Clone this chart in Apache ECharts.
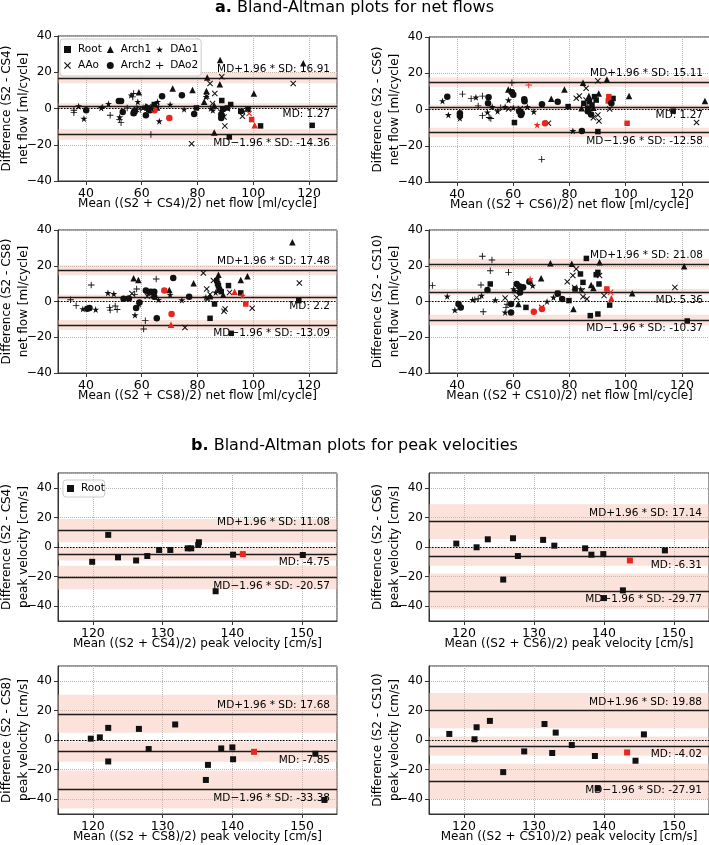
<!DOCTYPE html>
<html><head><meta charset="utf-8">
<script src="https://cdn.jsdelivr.net/npm/echarts@6.0.0/dist/echarts.min.js"></script>
<style>html,body{margin:0;padding:0;background:#fff}#c{width:709px;height:845px}</style>
</head><body><div id="c"></div>
<script>
const FONT = 'DejaVu Sans';
const types = ['Root','AAo','Arch1','Arch2','DAo1','DAo2'];
const comparisons = ['CS4','CS6','CS8','CS10'];

// ---- net flow data: [mean, difference] ----
const cs4_Root = [[57.1,-2.5],[57.4,-1.5],[61.9,0.3],[64.5,2.2],[62.5,-0.5],[79.6,0.3],[88.7,4.4],[89.0,-0.4],[88.5,-3.5],[90.7,0.3],[91.9,2.2],[95.5,-1.5],[98.1,-0.4],[102.6,-9.6],[121.1,-9.3],[91.4,-15.7]];
const cs4_AAo = [[88.7,17.5],[84.5,13.8],[83.3,6.8],[86.2,8.3],[114.3,13.8],[96.1,-4.3],[89.8,-9.6],[77.9,-19.4],[88.3,-1.9],[89.5,-4.7],[85.4,2.7],[90.7,-0.1],[58.0,-0.4],[62.5,1.0]];
const cs4_Arch1 = [[88.1,26.7],[117.9,24.9],[83.5,17.1],[88.0,13.4],[71.1,11.1],[78.2,10.2],[59.0,8.9],[83.2,9.6],[82.4,3.7],[100.2,8.3],[86.0,-13.3],[61.5,1.3],[86.0,1.7],[65.5,0.5]];
const cs4_Arch2 = [[51.8,4.2],[52.6,4.2],[40.1,-1.0],[53.2,-1.9],[57.1,-2.6],[61.5,-3.7],[67.3,6.8],[74.4,7.3],[78.8,-3.0],[88.7,-3.7],[88.5,-5.2],[64.4,0.8],[57.5,-1.5],[63.0,-1.0]];
const cs4_DAo1 = [[37.4,1.3],[39.3,-5.6],[45.5,0.3],[48.1,2.6],[52.1,-4.8],[56.2,7.3],[58.6,3.7],[65.7,3.7],[66.3,-7.0],[70.2,2.2],[75.2,-0.4],[83.1,6.4],[84.8,0.0],[96.4,-1.5],[60.5,0.5],[85.5,-1.0],[63.5,0.0]];
const cs4_DAo2 = [[35.7,-2.3],[35.7,-1.0],[48.7,-3.7],[52.6,-7.8],[52.0,-6.0],[57.1,8.3],[56.8,6.4],[63.3,-14.4],[58.3,0.3],[54.8,0.3],[46.0,0.5],[59.5,-0.5],[62.0,0.5],[66.0,1.0]];
const cs4_red = [['Root',99.4,-6.1],['AAo',98.5,-2.8],['Arch1',100.5,-9.3],['Arch2',69.9,-5.2],['Arch2',64.6,-1.0]];

const cs6_Root = [[60.4,-7.2],[79.5,1.6],[85.1,3.4],[87.1,4.3],[88.9,7.1],[89.5,5.2],[95.5,6.1],[90.1,-12.2],[116.9,-0.9],[86.5,0.5],[88.0,2.5]];
const cs6_AAo = [[82.4,6.2],[85.9,11.7],[90.1,15.8],[87.1,1.3],[90.1,-3.0],[90.5,-6.3],[94.3,0.3],[125.2,-7.2],[72.5,-7.6],[85.9,5.2],[58.3,0.3],[62.5,0.5],[83.5,7.5],[88.5,-4.5]];
const cs6_Arch1 = [[84.8,14.8],[93.3,16.6],[78.2,11.1],[86.9,7.5],[90.4,8.8],[101.2,7.5],[128.2,4.7],[58.2,11.1],[84.3,0.7],[88.5,1.0],[73.5,6.0]];
const cs6_Arch2 = [[36.5,7.1],[41.0,-2.1],[41.0,-3.4],[51.2,6.7],[51.0,3.4],[60.0,8.2],[63.9,5.6],[62.7,-3.0],[62.1,-0.9],[70.2,2.9],[75.8,4.3],[84.4,-11.8],[87.7,-2.7],[86.5,-0.9],[94.9,3.4],[59.5,9.5],[64.0,4.5],[63.0,-2.0]];
const cs6_DAo1 = [[34.8,4.7],[36.9,-3.0],[41.0,-4.8],[46.7,6.7],[50.8,-1.5],[54.4,-0.9],[57.1,1.5],[58.3,5.2],[67.3,-1.2],[81.2,-11.8],[52.5,1.5],[60.0,1.0],[65.0,1.5],[59.0,10.5]];
const cs6_DAo2 = [[41.9,8.5],[49.0,7.4],[49.0,-3.4],[51.4,-4.4],[59.5,14.8],[70.1,-27.5],[47.5,2.0],[45.0,6.0],[55.5,1.0],[52.0,-5.0]];
const cs6_red = [['Root',94.0,7.1],['Root',93.8,4.7],['Root',100.5,-7.6],['Arch2',71.3,-7.6],['DAo1',68.5,-8.5],['DAo2',65.5,13.5]];

const cs8_Root = [[84.5,-9.4],[86.1,-1.4],[86.9,11.7],[87.5,8.9],[87.7,6.4],[91.1,8.9],[95.5,4.8],[92.1,-17.8],[116.3,0.5],[62.5,5.5],[87.2,10.0],[88.5,5.5]];
const cs8_AAo = [[82.1,15.9],[85.7,11.7],[83.3,7.0],[91.5,5.1],[89.9,-4.2],[89.5,-5.5],[99.6,-3.8],[75.5,-14.5],[116.5,10.3],[56.5,4.5],[83.6,1.4],[84.5,4.0],[62.0,3.0]];
const cs8_Arch1 = [[114.0,33.1],[87.5,15.0],[97.9,14.1],[95.5,12.0],[57.1,13.0],[58.8,12.0],[69.9,6.4],[78.6,10.2],[89.2,3.8],[88.3,7.5],[84.5,3.0]];
const cs8_Arch2 = [[71.3,13.2],[41.3,-3.6],[58.0,-3.6],[65.4,-9.4],[64.5,2.7],[61.5,6.1],[63.3,5.5],[77.0,2.7],[59.2,-0.6],[55.4,1.7],[53.5,1.5],[64.5,5.5],[40.5,-4.0]];
const cs8_DAo1 = [[38.9,-4.2],[47.9,4.8],[50.0,4.3],[57.6,-7.6],[62.5,4.5],[70.2,3.8],[74.4,0.8],[86.5,5.1],[83.0,2.3],[43.5,-4.5],[59.0,-1.5],[66.0,1.0]];
const cs8_DAo2 = [[34.5,1.0],[36.5,-2.3],[41.9,9.2],[48.5,-3.3],[48.7,-4.8],[51.2,-4.5],[58.2,7.0],[65.2,12.6],[60.7,-15.4],[61.3,-10.7],[57.5,4.0],[50.5,-2.5]];
const cs8_red = [['Root',97.3,-1.4],['Arch1',93.3,5.5],['Arch1',70.5,-13.0],['Arch2',70.7,-7.0],['Arch2',68.1,6.1],['DAo1',96.1,3.3]];

const cs10_Root = [[86.0,24.1],[83.9,15.4],[84.8,10.7],[90.1,16.3],[90.5,9.8],[82.0,7.0],[94.3,-2.0],[87.4,-7.9],[90.1,-7.0],[121.9,-10.9],[51.8,9.8],[64.5,-3.3],[75.8,4.6],[79.8,0.5],[62.5,7.5],[89.5,15.0]];
const cs10_AAo = [[57.1,2.0],[61.2,2.3],[81.2,14.5],[82.4,18.2],[81.8,7.9],[79.2,11.1],[84.8,2.7],[86.2,1.4],[92.3,3.3],[117.5,7.9],[70.1,-3.3],[90.7,14.5],[84.5,6.0]];
const cs10_Arch1 = [[73.2,21.4],[90.7,21.9],[120.8,19.7],[80.8,21.1],[102.3,4.6],[81.4,-4.2],[69.9,13.0],[61.8,-1.4],[87.7,9.2],[88.5,7.5]];
const cs10_Arch2 = [[41.3,-3.3],[40.5,-1.4],[50.8,6.4],[59.2,-1.4],[59.2,-6.1],[61.2,9.8],[62.1,8.5],[62.4,5.1],[65.7,11.1],[77.4,1.4],[75.8,4.3],[63.5,8.0]];
const cs10_DAo1 = [[36.5,2.9],[39.2,-4.8],[45.5,1.0],[48.7,3.3],[53.6,0.8],[57.1,-6.1],[60.1,7.0],[66.9,8.9],[74.3,2.3],[72.0,0.0],[60.5,6.0],[84.0,7.0]];
const cs10_DAo2 = [[31.2,8.9],[48.5,9.2],[49.0,25.3],[52.4,23.2],[51.8,17.2],[58.3,16.3],[49.3,-5.7],[57.4,-3.3],[46.3,1.0],[57.8,-1.5],[47.5,1.5]];
const cs10_red = [['Root',93.3,7.0],['AAo',94.6,5.2],['Arch1',94.9,1.8],['Arch2',67.3,-5.7],['Arch2',70.2,-4.2],['DAo1',66.0,12.6]];

const netMD = [1.27, 1.27, 2.2, 5.36];
const netUpper = [16.91, 15.11, 17.48, 21.08];
const netLower = [-14.36, -12.58, -13.09, -10.37];
const netBandUpper = [[14.0,19.8],[12.56,17.66],[14.68,20.28],[18.18,23.98]];
const netBandMD = [[-0.33,2.87],[-0.14,2.68],[0.64,3.76],[3.76,6.96]];
const netBandLower = [[-17.26,-11.46],[-15.13,-10.03],[-15.89,-10.29],[-13.27,-7.47]];

// ---- peak velocity data (Root only): [mean, difference] ----
const pv_cs4 = [[119.9,-10.0],[122.2,8.2],[123.6,-7.0],[126.2,-9.1],[127.8,-6.1],[129.5,-2.0],[131.1,-2.0],[133.6,-0.9],[134.1,-0.9],[135.1,1.4],[135.2,3.2],[137.6,-29.9],[140.1,-5.2],[150.1,-5.4]];
const pv_cs4_red = [[141.5,-4.8]];
const pv_cs6 = [[118.9,2.3],[121.8,-0.2],[123.4,5.2],[125.6,-22.0],[127.0,5.9],[127.7,-6.1],[131.3,4.8],[132.9,0.9],[137.3,-0.9],[138.2,-5.2],[139.9,-4.8],[142.7,-29.3],[148.7,-2.3],[140.0,-34.5]];
const pv_cs6_red = [[143.7,-9.1]];
const pv_cs8 = [[119.7,0.9],[121.0,1.8],[122.2,8.2],[122.2,-14.5],[126.6,7.5],[128.0,-6.1],[131.8,10.5],[136.2,-27.0],[136.5,-16.8],[138.4,-5.7],[140.0,-5.0],[140.1,-13.0],[151.9,-9.3],[153.2,-40.5]];
const pv_cs8_red = [[143.1,-8.0]];
const pv_cs10 = [[117.9,4.1],[121.5,0.5],[121.8,8.6],[123.7,12.9],[125.6,-21.7],[128.6,-7.7],[131.5,10.8],[132.6,-8.8],[133.1,5.0],[135.4,-3.4],[138.7,-10.8],[144.5,-14.0],[145.7,3.8],[139.1,-32.7]];
const pv_cs10_red = [[143.3,-8.4]];

const pvMD = [-4.75, -6.31, -7.85, -4.02];
const pvUpper = [11.08, 17.14, 17.68, 19.88];
const pvLower = [-20.57, -29.77, -33.38, -27.91];
const pvBandUpper = [[3.2,19.0],[5.4,28.9],[4.9,30.5],[7.9,31.8]];
const pvBandMD = [[-9.05,-0.45],[-12.6,0.0],[-14.75,-0.95],[-10.5,2.4]];
const pvBandLower = [[-28.5,-12.7],[-41.7,-17.9],[-46.2,-20.6],[-39.9,-16.0]];

// ---- build ----
const netSets = [
  {Root:cs4_Root,AAo:cs4_AAo,Arch1:cs4_Arch1,Arch2:cs4_Arch2,DAo1:cs4_DAo1,DAo2:cs4_DAo2,red:cs4_red},
  {Root:cs6_Root,AAo:cs6_AAo,Arch1:cs6_Arch1,Arch2:cs6_Arch2,DAo1:cs6_DAo1,DAo2:cs6_DAo2,red:cs6_red},
  {Root:cs8_Root,AAo:cs8_AAo,Arch1:cs8_Arch1,Arch2:cs8_Arch2,DAo1:cs8_DAo1,DAo2:cs8_DAo2,red:cs8_red},
  {Root:cs10_Root,AAo:cs10_AAo,Arch1:cs10_Arch1,Arch2:cs10_Arch2,DAo1:cs10_DAo1,DAo2:cs10_DAo2,red:cs10_red}
];
const pvSets = [[pv_cs4,pv_cs4_red],[pv_cs6,pv_cs6_red],[pv_cs8,pv_cs8_red],[pv_cs10,pv_cs10_red]];

const STAR = 'path://M50,0L61.2,34.5L97.6,34.5L68.2,55.9L79.4,90.5L50,69.1L20.6,90.5L31.8,55.9L2.4,34.5L38.8,34.5Z';
const XMARK = 'path://M1.2,0L5,3.8L8.8,0L10,1.2L6.2,5L10,8.8L8.8,10L5,6.2L1.2,10L0,8.8L3.8,5L0,1.2Z';
const PLUS = 'path://M4.3,0H5.7V4.3H10V5.7H5.7V10H4.3V5.7H0V4.3H4.3Z';
const SYM = {
  Root:{symbol:'rect', size:5.5},
  AAo:{symbol:XMARK, size:6},
  Arch1:{symbol:'triangle', size:6.5},
  Arch2:{symbol:'circle', size:6.5},
  DAo1:{symbol:STAR, size:7},
  DAo2:{symbol:PLUS, size:6.5}
};
const BLACK = '#111111', RED = '#e8261e';

const gridsPos = [
  {left:58, top:36, width:279, height:145},
  {left:429, top:37, width:281, height:145},
  {left:58, top:230, width:279, height:143},
  {left:429, top:230, width:281, height:143},
  {left:58, top:473, width:279, height:148},
  {left:429, top:473, width:280, height:148},
  {left:58, top:666, width:279, height:148},
  {left:429, top:666, width:280, height:148}
];
const grid = gridsPos.map(g => Object.assign({show:true, borderColor:'#333', borderWidth:1, backgroundColor:'transparent', containLabel:false, outerBoundsMode:'none'}, g));

const minus = v => String(v).replace('-', '\u2212');
function xAx(i, min, max, split, name){
  return {type:'value', gridIndex:i, min:min, max:max, splitNumber:split, name:name, nameLocation:'middle', nameGap:17,
    nameMoveOverlap:false,
    nameTextStyle:{fontFamily:FONT, fontSize:12, color:'#000'},
    axisLine:{show:true, onZero:false, lineStyle:{color:'#333', width:1}},
    axisTick:{show:true, length:4, lineStyle:{color:'#333'}},
    axisLabel:{fontFamily:FONT, fontSize:12.5, color:'#000', margin:6, showMinLabel:false, showMaxLabel:false, formatter:minus},
    splitLine:{show:true, lineStyle:{color:'#b5b5b5', type:'dotted', width:1}}};
}
function yAx(i, min, max, split, name, showEnds){
  return {type:'value', gridIndex:i, min:min, max:max, splitNumber:split, name:name, nameLocation:'middle', nameRotate:90, nameGap:26,
    nameMoveOverlap:false,
    nameTextStyle:{fontFamily:FONT, fontSize:12, color:'#000', lineHeight:17, align:'center'},
    axisLine:{show:true, onZero:false, lineStyle:{color:'#333', width:1}},
    axisTick:{show:true, length:4, lineStyle:{color:'#333'}},
    axisLabel:{fontFamily:FONT, fontSize:12, color:'#000', margin:6, showMinLabel:showEnds, showMaxLabel:showEnds, formatter:minus},
    splitLine:{show:true, lineStyle:{color:'#b5b5b5', type:'dotted', width:1}}};
}
const xAxis = [], yAxis = [], series = [];
comparisons.forEach((c, k) => {
  xAxis.push(xAx(k, 30, 130, 5, 'Mean ((S2 + ' + c + ')/2) net flow [ml/cycle]'));
  yAxis.push(yAx(k, -40, 40, 4, 'Difference (S2 - ' + c + ')\nnet flow [ml/cycle]', true));
});
comparisons.forEach((c, k) => {
  xAxis.push(xAx(4 + k, 115, 155, 4, 'Mean ((S2 + ' + c + ')/2) peak velocity [cm/s]'));
  yAxis.push(yAx(4 + k, -50, 50, 5, 'Difference (S2 - ' + c + ')\npeak velocity [cm/s]', false));
});

function lbl(txt, pos){
  return {show:true, position:pos, formatter:txt, fontFamily:FONT, fontSize:10.5, color:'#000', distance:[7,3]};
}
function refSeries(i, md, up, lo, bands){
  const ls = {color:'#1c1c1c', type:'solid', width:1.4};
  return {type:'line', xAxisIndex:i, yAxisIndex:i, data:[], z:1, silent:true,
    markArea:{silent:true, z:1, itemStyle:{color:'rgba(246,185,170,0.42)'},
      data: bands.map(b => [{yAxis:b[0]}, {yAxis:b[1]}])},
    markLine:{silent:true, z:3, symbol:['none','none'], data:[
      {yAxis:0, lineStyle:{color:'#000', type:[1.5,1.5], width:1.1}, label:{show:false}},
      {yAxis:up, lineStyle:ls, label:lbl('MD+1.96 * SD: ' + up, 'insideEndTop')},
      {yAxis:md, lineStyle:ls, label:lbl('MD: ' + md, 'insideEndBottom')},
      {yAxis:lo, lineStyle:ls, label:lbl('MD\u22121.96 * SD: ' + lo, 'insideEndBottom')}
    ]}};
}

netSets.forEach((set, k) => {
  series.push(refSeries(k, netMD[k], netUpper[k], netLower[k], [netBandUpper[k], netBandMD[k], netBandLower[k]]));
  types.forEach(t => {
    const data = set[t].map(p => ({value:p}));
    set.red.filter(r => r[0] === t).forEach(r => data.push({value:[r[1], r[2]], itemStyle:{color:RED}}));
    series.push({type:'scatter', name:t, xAxisIndex:k, yAxisIndex:k, z:4, symbol:SYM[t].symbol, symbolSize:SYM[t].size,
      itemStyle:{color:BLACK, opacity:1}, data:data});
  });
});
pvSets.forEach((set, k) => {
  const i = 4 + k;
  series.push(refSeries(i, pvMD[k], pvUpper[k], pvLower[k], [pvBandUpper[k], pvBandMD[k], pvBandLower[k]]));
  const data = set[0].map(p => ({value:p}));
  set[1].forEach(p => data.push({value:p, itemStyle:{color:RED}}));
  series.push({type:'scatter', name:'Root', xAxisIndex:i, yAxisIndex:i, z:4, symbol:'rect', symbolSize:6,
    itemStyle:{color:BLACK, opacity:1}, data:data});
});

const legendCommon = {orient:'vertical', itemWidth:7, itemHeight:7, itemGap:5, selectedMode:false,
  backgroundColor:'rgba(255,255,255,0.85)', borderColor:'#cccccc', borderWidth:1, borderRadius:3,
  textStyle:{fontFamily:FONT, fontSize:10.5, color:'#000', padding:[0,8,0,2]}};
const legend = [
  Object.assign({}, legendCommon, {left:60, top:39, height:38, padding:[5,3,5,4],
    data: types.map(n => ({name:n, icon:SYM[n].symbol}))}),
  Object.assign({}, legendCommon, {left:63, top:480, padding:[3,0,3,4],
    data: [{name:'Root', icon:'rect'}]})
];

const titleStyle = {fontFamily:FONT, fontSize:16, fontWeight:'normal', color:'#000',
  rich:{b:{fontFamily:FONT, fontSize:16, fontWeight:'bold', color:'#000'}}};
const option = {
  animation:false,
  backgroundColor:'#fff',
  title:[
    {text:'{b|a.} Bland-Altman plots for net flows', left:'center', top:0, padding:0, textStyle:titleStyle},
    {text:'{b|b.} Bland-Altman plots for peak velocities', left:'center', top:438, padding:0, textStyle:titleStyle}
  ],
  legend: legend,
  grid: grid, xAxis: xAxis, yAxis: yAxis, series: series
};
const chart = echarts.init(document.getElementById('c'), null, {renderer:'canvas'});
chart.setOption(option);
</script></body></html>
